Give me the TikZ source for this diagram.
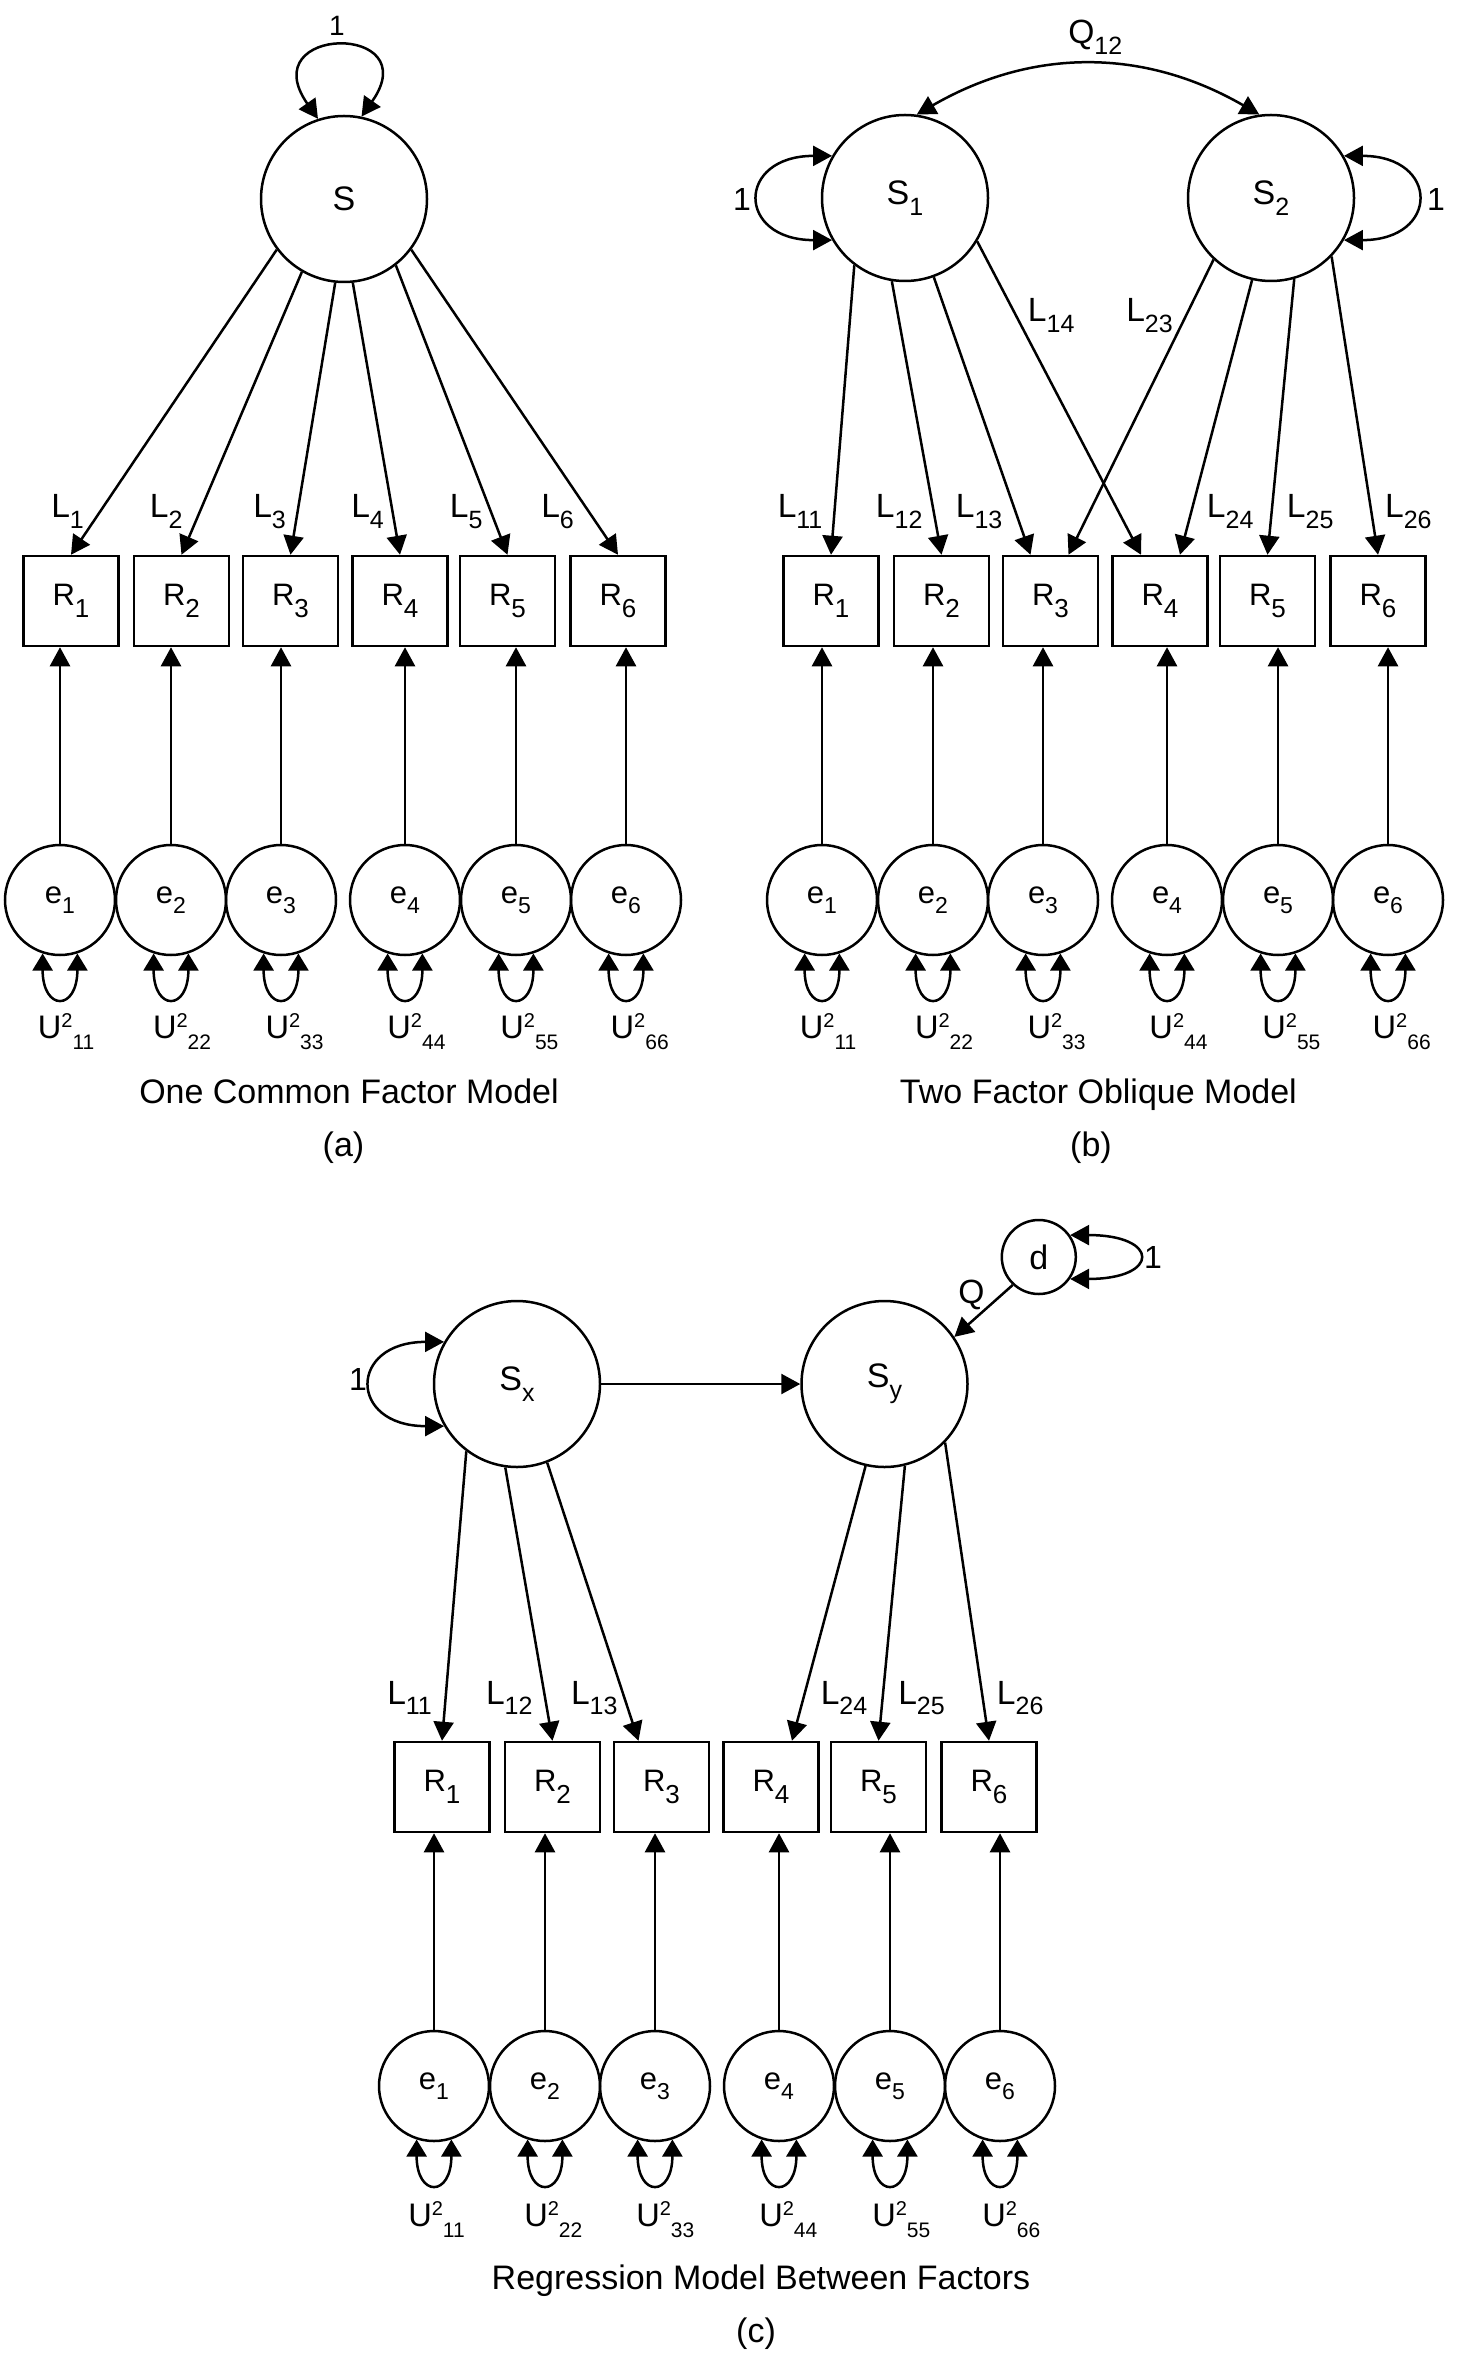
\documentclass[tikz,border=0pt]{standalone}
\usepackage{fontspec}
\setmainfont{Liberation Sans}
\usetikzlibrary{arrows.meta}
\newcommand{\sbl}[1]{\raisebox{-5.3pt}{\fontsize{12.5}{13}\selectfont #1}}
\newcommand{\sbr}[1]{\raisebox{-6.2pt}{\fontsize{13}{13}\selectfont #1}}
\newcommand{\sbe}[1]{\raisebox{-4.8pt}{\fontsize{11.5}{12}\selectfont #1}}
\newcommand{\spx}[1]{\raisebox{5.5pt}{\fontsize{10}{11}\selectfont #1}}
\newcommand{\sbu}[1]{\raisebox{-5.8pt}{\fontsize{10.5}{11}\selectfont #1}}
\begin{document}
\begin{tikzpicture}[x=0.5pt,y=0.5pt,
  every node/.style={font=\fontsize{17}{20}\selectfont},
  line width=1.25pt,
  >={Triangle[length=9.5pt,width=10pt]},
  lat/.style={circle,draw,minimum size=83pt,inner sep=0pt},
  err/.style={circle,draw,minimum size=55pt,inner sep=0pt,font=\fontsize{15.5}{18}\selectfont},
  dst/.style={circle,draw,minimum size=37pt,inner sep=0pt},
  obs/.style={rectangle,draw,minimum width=47.5pt,minimum height=45pt,inner sep=0pt,font=\fontsize{15.5}{18}\selectfont},
  lbl/.style={inner sep=0pt,anchor=base west,font=\fontsize{16.8}{20}\selectfont},
  ulbl/.style={inner sep=0pt,anchor=base west,font=\fontsize{16.3}{20}\selectfont},
  one/.style={inner sep=0pt,font=\fontsize{16}{20}\selectfont},
  captxt/.style={inner sep=0pt,anchor=base},
  ld/.style={->},
  cv/.style={<->},
  sl/.style={{Triangle[length=8.5pt,width=10pt]}-{Triangle[length=8.5pt,width=10pt]}}]
\path[fill=white] (0,0) rectangle (1456,-2353);
\useasboundingbox (0,0) rectangle (1456,-2353);

% ---------------- Panel (a) ----------------
\node[lat] (aS) at (344,-199) {S};
\foreach \i/\x in {1/71,2/181.5,3/290.5,4/400,5/507.5,6/618}
  \node[obs] (aR\i) at (\x,-601) {R\sbr{\i}};
\foreach \i/\x in {1/60,2/171,3/281,4/405,5/516,6/626}
  \node[err] (ae\i) at (\x,-900) {e\sbe{\i}};
\foreach \i/\a in {1/217,2/240,3/264,4/276,5/308,6/323}
  \draw[ld] (aS.\a) -- (aR\i.north);
\foreach \i in {1,...,6}{
  \draw[ld] (ae\i.north) -- (ae\i.north |- aR\i.south);
  \draw[sl] (ae\i.252) .. controls +(0,-58) and +(0,-58) .. (ae\i.288);
}
\draw[cv] (aS.108) .. controls +(125:115) and +(55:115) .. (aS.78);
\node[one,font=\fontsize{14}{16}\selectfont] (a1) at (337,-26) {1};
\foreach \i/\x in {1/50,2/148.7,3/252,4/350,5/448.7,6/540}
  \node[lbl] (aL\i) at (\x,-518) {L\sbl{\i}};
\foreach \i/\x in {1/36.6,2/151.8,3/264.3,4/386.2,5/499.1,6/609.4}
  \node[ulbl] (aU\i) at (\x,-1038) {U\spx{2}\sbu{\i\i}};
\node[captxt] (acap) at (349,-1103.6) {One Common Factor Model};
\node[captxt] (atag) at (343.5,-1156) {(a)};

% ---------------- Panel (b) ----------------
\node[lat] (bS1) at (905,-198) {S\sbl{1}};
\node[lat] (bS2) at (1271,-198) {S\sbl{2}};
\foreach \i/\x in {1/831,2/941.5,3/1050.5,4/1160,5/1267.5,6/1378}
  \node[obs] (bR\i) at (\x,-601) {R\sbr{\i}};
\foreach \i/\x in {1/822,2/933,3/1043,4/1167,5/1278,6/1388}
  \node[err] (be\i) at (\x,-900) {e\sbe{\i}};
\foreach \i in {1,...,6}{
  \draw[ld] (be\i.north) -- (be\i.north |- bR\i.south);
  \draw[sl] (be\i.252) .. controls +(0,-58) and +(0,-58) .. (be\i.288);
}
\coordinate (bR3a) at ([xshift=-10pt]bR3.north);
\coordinate (bR3b) at ([xshift=9pt]bR3.north);
\coordinate (bR4a) at ([xshift=-9.5pt]bR4.north);
\coordinate (bR4b) at ([xshift=10pt]bR4.north);
\draw[ld] (bS1.233) -- (bR1.north);
\draw[ld] (bS1.261) -- (bR2.north);
\draw[ld] (bS1.290) -- (bR3a);
\draw[ld] (bS1.329) -- (bR4a);
\draw[ld] (bS2.227) -- (bR3b);
\draw[ld] (bS2.257) -- (bR4b);
\draw[ld] (bS2.286) -- (bR5.north);
\draw[ld] (bS2.316) -- (bR6.north);
\draw[cv] (bS1.82) to[bend left=30] (bS2.98);
\draw[cv] (bS1.150) .. controls +(-96,0) and +(-96,0) .. (bS1.210);
\draw[cv] (bS2.30) .. controls +(96,0) and +(96,0) .. (bS2.330);
\node[one] (b1l) at (742,-199) {1};
\node[one] (b1r) at (1436,-199) {1};
\node[lbl] (bQ) at (1067,-44) {Q\sbl{12}};
\node[lbl] (bL11) at (776.5,-518) {L\sbl{11}};
\node[lbl] (bL12) at (874.7,-518) {L\sbl{12}};
\node[lbl] (bL13) at (954.6,-518) {L\sbl{13}};
\node[lbl] (bL14) at (1026.7,-322) {L\sbl{14}};
\node[lbl] (bL23) at (1125,-322) {L\sbl{23}};
\node[lbl] (bL24) at (1205.7,-518) {L\sbl{24}};
\node[lbl] (bL25) at (1285.7,-518) {L\sbl{25}};
\node[lbl] (bL26) at (1383.8,-518) {L\sbl{26}};
\foreach \i/\x in {1/798.6,2/913.8,3/1026.3,4/1148.2,5/1261.1,6/1371.4}
  \node[ulbl] (bU\i) at (\x,-1038) {U\spx{2}\sbu{\i\i}};
\node[captxt] (bcap) at (1098.4,-1103.6) {Two Factor Oblique Model};
\node[captxt] (btag) at (1091,-1156) {(b)};

% ---------------- Panel (c) ----------------
\node[lat] (cSx) at (517,-1384) {S\sbl{x}};
\node[lat] (cSy) at (884.5,-1384) {S\sbl{y}};
\node[dst] (cd) at (1038.8,-1257) {d};
\foreach \i/\x in {1/442,2/552.5,3/661.5,4/771,5/878.5,6/989}
  \node[obs] (cR\i) at (\x,-1787) {R\sbr{\i}};
\foreach \i/\x in {1/434,2/545,3/655,4/779,5/890,6/1000}
  \node[err] (ce\i) at (\x,-2086) {e\sbe{\i}};
\foreach \i in {1,...,6}{
  \draw[ld] (ce\i.north) -- (ce\i.north |- cR\i.south);
  \draw[sl] (ce\i.252) .. controls +(0,-58) and +(0,-58) .. (ce\i.288);
}
\coordinate (cR3a) at ([xshift=-11.5pt]cR3.north);
\coordinate (cR4a) at ([xshift=10.5pt]cR4.north);
\draw[ld] (cSx.233) -- (cR1.north);
\draw[ld] (cSx.262) -- (cR2.north);
\draw[ld] (cSx.291) -- (cR3a);
\draw[ld] (cSy.257) -- (cR4a);
\draw[ld] (cSy.284) -- (cR5.north);
\draw[ld] (cSy.316) -- (cR6.north);
\draw[ld] (cSx) -- (cSy);
\draw[ld] (cd.227) -- (cSy.34);
\draw[cv] (cSx.150) .. controls +(-96,0) and +(-96,0) .. (cSx.210);
\draw[cv] (cd.35) .. controls +(90,0) and +(90,0) .. (cd.325);
\node[one] (c1l) at (358,-1379) {1};
\node[one] (c1d) at (1153,-1257.5) {1};
\node[lbl] (cQ) at (957,-1303) {Q};
\node[lbl] (cL11) at (386,-1704) {L\sbl{11}};
\node[lbl] (cL12) at (484.8,-1704) {L\sbl{12}};
\node[lbl] (cL13) at (569.8,-1704) {L\sbl{13}};
\node[lbl] (cL24) at (819.5,-1704) {L\sbl{24}};
\node[lbl] (cL25) at (897,-1704) {L\sbl{25}};
\node[lbl] (cL26) at (995.7,-1704) {L\sbl{26}};
\foreach \i/\x in {1/407,2/523,3/635,4/758,5/871,6/981}
  \node[ulbl] (cU\i) at (\x,-2226) {U\spx{2}\sbu{\i\i}};
\node[captxt] (ccap) at (761,-2289.6) {Regression Model Between Factors};
\node[captxt] (ctag) at (756,-2342) {(c)};
\end{tikzpicture}
\end{document}
